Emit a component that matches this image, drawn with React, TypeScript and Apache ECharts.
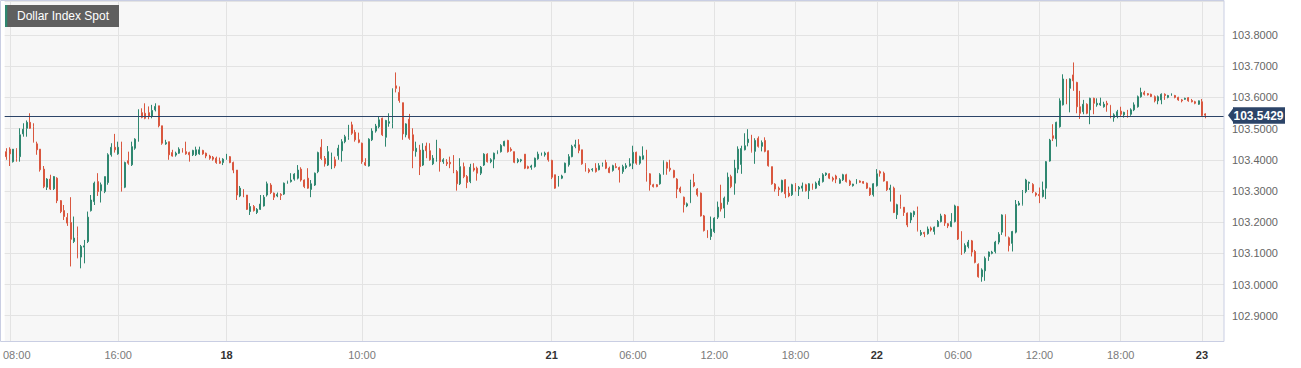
import React, { useEffect, useRef } from 'react';
import * as echarts from 'echarts';

// ---- categories: 15-minute slots, trading days shown on the axis ----
const tradingDays = ['17', '18', '21', '22', '23'];
const firstSlotOfDay17 = 31; // 07:45
const slotCount = 360;

// ---- candles [open, close, low, high] per day ----
const day17 = [
  [103.426, 103.410, 103.400, 103.437], [103.434, 103.419, 103.380, 103.440],
  [103.394, 103.434, 103.391, 103.434], [103.432, 103.405, 103.394, 103.437], [103.410, 103.480, 103.394, 103.501],
  [103.483, 103.498, 103.474, 103.517], [103.501, 103.520, 103.474, 103.526], [103.520, 103.501, 103.499, 103.549],
  [103.506, 103.458, 103.455, 103.517], [103.451, 103.432, 103.416, 103.458], [103.434, 103.368, 103.362, 103.434],
  [103.370, 103.314, 103.309, 103.380], [103.312, 103.338, 103.303, 103.341], [103.338, 103.306, 103.303, 103.352],
  [103.307, 103.346, 103.303, 103.348], [103.341, 103.269, 103.261, 103.344], [103.269, 103.234, 103.229, 103.271],
  [103.237, 103.218, 103.207, 103.255], [103.215, 103.197, 103.188, 103.229], [103.199, 103.145, 103.058, 103.280],
  [103.138, 103.149, 103.133, 103.218], [103.154, 103.088, 103.084, 103.186], [103.088, 103.122, 103.052, 103.127],
  [103.120, 103.124, 103.068, 103.143], [103.138, 103.216, 103.133, 103.234], [103.237, 103.271, 103.234, 103.287],
  [103.266, 103.325, 103.255, 103.330], [103.330, 103.298, 103.284, 103.357], [103.301, 103.320, 103.263, 103.327],
  [103.298, 103.346, 103.293, 103.346], [103.327, 103.416, 103.320, 103.421], [103.416, 103.440, 103.410, 103.453],
  [103.440, 103.432, 103.423, 103.483], [103.419, 103.440, 103.416, 103.458], [103.440, 103.314, 103.298, 103.458],
  [103.312, 103.391, 103.309, 103.394], [103.397, 103.389, 103.384, 103.426], [103.384, 103.442, 103.380, 103.458],
  [103.437, 103.466, 103.432, 103.469], [103.464, 103.560, 103.458, 103.562], [103.551, 103.536, 103.533, 103.565],
  [103.549, 103.533, 103.530, 103.581], [103.551, 103.539, 103.530, 103.571], [103.539, 103.558, 103.533, 103.576],
  [103.560, 103.571, 103.555, 103.581], [103.573, 103.509, 103.504, 103.573], [103.509, 103.453, 103.448, 103.509],
  [103.451, 103.455, 103.448, 103.464], [103.458, 103.416, 103.400, 103.458], [103.423, 103.412, 103.410, 103.432],
  [103.415, 103.421, 103.410, 103.426], [103.421, 103.434, 103.419, 103.440], [103.432, 103.425, 103.423, 103.437],
  [103.426, 103.419, 103.416, 103.458], [103.423, 103.416, 103.394, 103.426], [103.416, 103.430, 103.412, 103.432],
  [103.416, 103.432, 103.412, 103.442], [103.419, 103.432, 103.416, 103.442], [103.430, 103.419, 103.416, 103.432],
  [103.421, 103.412, 103.405, 103.423], [103.412, 103.405, 103.400, 103.416], [103.408, 103.402, 103.397, 103.412],
  [103.405, 103.391, 103.387, 103.410], [103.395, 103.389, 103.387, 103.407], [103.391, 103.402, 103.383, 103.405],
];
const day18 = [
  [103.403, 103.412, 103.400, 103.419], [103.410, 103.391, 103.389, 103.412], [103.391, 103.367, 103.357, 103.394],
  [103.367, 103.287, 103.271, 103.367], [103.284, 103.309, 103.280, 103.316], [103.305, 103.287, 103.280, 103.305],
  [103.287, 103.241, 103.239, 103.287], [103.234, 103.250, 103.223, 103.261], [103.250, 103.237, 103.234, 103.255],
  [103.231, 103.241, 103.226, 103.245], [103.241, 103.258, 103.239, 103.287], [103.252, 103.280, 103.250, 103.287],
  [103.287, 103.323, 103.282, 103.330], [103.319, 103.295, 103.290, 103.325], [103.293, 103.280, 103.271, 103.295],
  [103.284, 103.289, 103.280, 103.295], [103.289, 103.286, 103.271, 103.293], [103.290, 103.325, 103.287, 103.327],
  [103.325, 103.330, 103.323, 103.333], [103.330, 103.335, 103.327, 103.357], [103.338, 103.354, 103.333, 103.357],
  [103.341, 103.367, 103.337, 103.383], [103.370, 103.335, 103.330, 103.376], [103.335, 103.314, 103.309, 103.337],
  [103.341, 103.309, 103.307, 103.373], [103.305, 103.323, 103.280, 103.335], [103.319, 103.357, 103.316, 103.359],
  [103.362, 103.423, 103.357, 103.426], [103.440, 103.404, 103.399, 103.466], [103.404, 103.387, 103.378, 103.412],
  [103.383, 103.426, 103.380, 103.444], [103.410, 103.418, 103.370, 103.423], [103.400, 103.380, 103.373, 103.410],
  [103.413, 103.437, 103.400, 103.448], [103.429, 103.458, 103.394, 103.466], [103.458, 103.474, 103.453, 103.480],
  [103.472, 103.508, 103.464, 103.512], [103.512, 103.485, 103.480, 103.522], [103.488, 103.464, 103.458, 103.496],
  [103.464, 103.456, 103.453, 103.487], [103.453, 103.394, 103.387, 103.455], [103.391, 103.383, 103.380, 103.405],
  [103.380, 103.466, 103.378, 103.469], [103.464, 103.492, 103.460, 103.501], [103.492, 103.508, 103.487, 103.515],
  [103.506, 103.528, 103.501, 103.538], [103.533, 103.480, 103.476, 103.535], [103.472, 103.526, 103.442, 103.528],
  [103.517, 103.522, 103.506, 103.549], [103.517, 103.626, 103.501, 103.629], [103.637, 103.629, 103.616, 103.680],
  [103.616, 103.590, 103.583, 103.635], [103.583, 103.483, 103.464, 103.583], [103.480, 103.515, 103.472, 103.517],
  [103.530, 103.469, 103.464, 103.547], [103.480, 103.429, 103.373, 103.501], [103.426, 103.437, 103.410, 103.458],
  [103.431, 103.378, 103.351, 103.448], [103.383, 103.431, 103.380, 103.453], [103.444, 103.429, 103.405, 103.455],
  [103.429, 103.400, 103.397, 103.453], [103.387, 103.405, 103.383, 103.415], [103.402, 103.434, 103.394, 103.464],
  [103.434, 103.394, 103.362, 103.437], [103.394, 103.400, 103.387, 103.405], [103.392, 103.387, 103.380, 103.402],
  [103.392, 103.387, 103.373, 103.410], [103.389, 103.362, 103.357, 103.415], [103.362, 103.323, 103.301, 103.367],
  [103.323, 103.378, 103.319, 103.405], [103.378, 103.346, 103.341, 103.391], [103.346, 103.327, 103.309, 103.351],
  [103.330, 103.376, 103.325, 103.387], [103.373, 103.367, 103.362, 103.389], [103.373, 103.357, 103.333, 103.378],
  [103.357, 103.376, 103.351, 103.380], [103.383, 103.418, 103.380, 103.421], [103.418, 103.394, 103.391, 103.421],
  [103.394, 103.400, 103.389, 103.405], [103.402, 103.421, 103.373, 103.423], [103.421, 103.426, 103.418, 103.430],
  [103.426, 103.446, 103.423, 103.450], [103.445, 103.459, 103.443, 103.461], [103.462, 103.426, 103.423, 103.464],
  [103.434, 103.430, 103.426, 103.440], [103.426, 103.392, 103.389, 103.426], [103.394, 103.400, 103.389, 103.405],
  [103.397, 103.400, 103.392, 103.403], [103.418, 103.373, 103.370, 103.418], [103.378, 103.373, 103.370, 103.381],
  [103.376, 103.380, 103.368, 103.384], [103.378, 103.405, 103.375, 103.407], [103.403, 103.418, 103.400, 103.426],
  [103.415, 103.418, 103.413, 103.423], [103.416, 103.421, 103.410, 103.426], [103.423, 103.400, 103.394, 103.426],
];
const day21 = [
  [103.398, 103.344, 103.338, 103.400], [103.352, 103.309, 103.307, 103.352], [103.316, 103.344, 103.314, 103.348],
  [103.341, 103.348, 103.338, 103.352], [103.359, 103.389, 103.357, 103.391], [103.384, 103.410, 103.378, 103.418],
  [103.410, 103.443, 103.408, 103.448], [103.443, 103.448, 103.437, 103.464], [103.448, 103.430, 103.421, 103.466],
  [103.432, 103.387, 103.384, 103.432], [103.384, 103.368, 103.362, 103.389], [103.368, 103.362, 103.357, 103.373],
  [103.368, 103.370, 103.362, 103.373], [103.373, 103.362, 103.359, 103.389], [103.368, 103.381, 103.366, 103.389],
  [103.381, 103.384, 103.378, 103.391], [103.391, 103.373, 103.370, 103.400], [103.373, 103.359, 103.357, 103.378],
  [103.366, 103.381, 103.362, 103.384], [103.378, 103.375, 103.373, 103.389], [103.375, 103.368, 103.327, 103.378],
  [103.362, 103.378, 103.355, 103.384], [103.375, 103.381, 103.370, 103.389], [103.381, 103.387, 103.378, 103.405],
  [103.389, 103.424, 103.370, 103.445], [103.424, 103.389, 103.384, 103.426], [103.389, 103.410, 103.384, 103.413],
  [103.402, 103.413, 103.400, 103.443], [103.418, 103.362, 103.330, 103.432], [103.355, 103.320, 103.301, 103.357],
  [103.320, 103.314, 103.311, 103.323], [103.320, 103.314, 103.312, 103.322], [103.323, 103.352, 103.320, 103.357],
  [103.355, 103.394, 103.352, 103.398], [103.391, 103.373, 103.352, 103.394], [103.373, 103.368, 103.362, 103.400],
  [103.366, 103.344, 103.341, 103.368], [103.338, 103.306, 103.277, 103.341], [103.309, 103.298, 103.293, 103.314],
  [103.280, 103.256, 103.231, 103.282], [103.252, 103.259, 103.248, 103.263], [103.263, 103.330, 103.261, 103.336],
  [103.327, 103.316, 103.312, 103.355], [103.306, 103.288, 103.282, 103.309], [103.293, 103.220, 103.218, 103.295],
  [103.220, 103.173, 103.170, 103.223], [103.173, 103.152, 103.149, 103.175], [103.154, 103.178, 103.143, 103.218],
  [103.170, 103.213, 103.165, 103.216], [103.216, 103.248, 103.210, 103.266], [103.261, 103.242, 103.234, 103.320],
  [103.245, 103.277, 103.213, 103.282], [103.266, 103.344, 103.256, 103.359], [103.346, 103.314, 103.309, 103.352],
  [103.325, 103.373, 103.288, 103.400], [103.370, 103.434, 103.357, 103.443], [103.385, 103.436, 103.355, 103.445],
  [103.432, 103.445, 103.430, 103.485], [103.455, 103.466, 103.443, 103.498], [103.466, 103.427, 103.423, 103.480],
  [103.427, 103.462, 103.387, 103.469], [103.469, 103.443, 103.439, 103.475], [103.443, 103.455, 103.427, 103.462],
  [103.462, 103.427, 103.424, 103.472], [103.429, 103.381, 103.378, 103.430], [103.378, 103.323, 103.320, 103.378],
  [103.322, 103.306, 103.298, 103.325], [103.309, 103.304, 103.284, 103.314], [103.298, 103.334, 103.295, 103.336],
  [103.336, 103.291, 103.277, 103.338], [103.293, 103.284, 103.280, 103.314], [103.288, 103.320, 103.284, 103.323],
  [103.320, 103.314, 103.298, 103.325], [103.306, 103.312, 103.284, 103.316], [103.309, 103.316, 103.298, 103.327],
  [103.320, 103.301, 103.298, 103.323], [103.301, 103.323, 103.274, 103.325], [103.323, 103.309, 103.304, 103.323],
  [103.309, 103.325, 103.306, 103.330], [103.320, 103.332, 103.316, 103.341], [103.330, 103.352, 103.327, 103.357],
  [103.352, 103.357, 103.348, 103.359], [103.355, 103.341, 103.338, 103.357], [103.341, 103.336, 103.330, 103.346],
  [103.348, 103.338, 103.325, 103.352], [103.325, 103.336, 103.323, 103.341], [103.336, 103.352, 103.332, 103.355],
  [103.352, 103.330, 103.327, 103.355], [103.332, 103.320, 103.316, 103.336], [103.317, 103.322, 103.314, 103.323],
  [103.325, 103.332, 103.322, 103.338], [103.332, 103.328, 103.326, 103.334], [103.330, 103.325, 103.323, 103.332],
  [103.325, 103.309, 103.306, 103.327], [103.309, 103.288, 103.284, 103.311], [103.288, 103.323, 103.282, 103.325],
];
const day22 = [
  [103.317, 103.355, 103.314, 103.370], [103.362, 103.357, 103.346, 103.366], [103.357, 103.332, 103.330, 103.362],
  [103.330, 103.304, 103.300, 103.330], [103.304, 103.309, 103.266, 103.320], [103.309, 103.231, 103.229, 103.314],
  [103.224, 103.256, 103.210, 103.259], [103.250, 103.245, 103.243, 103.288], [103.248, 103.231, 103.220, 103.248],
  [103.229, 103.191, 103.184, 103.231], [103.207, 103.229, 103.197, 103.231], [103.224, 103.234, 103.216, 103.237],
  [103.240, 103.173, 103.170, 103.250], [103.160, 103.167, 103.156, 103.175], [103.167, 103.163, 103.152, 103.169],
  [103.163, 103.178, 103.160, 103.186], [103.181, 103.175, 103.170, 103.186], [103.170, 103.184, 103.160, 103.186],
  [103.186, 103.202, 103.184, 103.207], [103.202, 103.220, 103.199, 103.227], [103.223, 103.197, 103.188, 103.226],
  [103.195, 103.188, 103.181, 103.197], [103.186, 103.202, 103.184, 103.229], [103.202, 103.252, 103.199, 103.256],
  [103.250, 103.146, 103.143, 103.252], [103.149, 103.108, 103.095, 103.171], [103.106, 103.125, 103.100, 103.132],
  [103.122, 103.136, 103.116, 103.143], [103.140, 103.104, 103.090, 103.143], [103.106, 103.071, 103.068, 103.111],
  [103.065, 103.025, 103.022, 103.068], [103.025, 103.047, 103.009, 103.052], [103.044, 103.084, 103.012, 103.090],
  [103.090, 103.104, 103.076, 103.106], [103.100, 103.104, 103.097, 103.108], [103.106, 103.136, 103.100, 103.140],
  [103.136, 103.161, 103.129, 103.168], [103.168, 103.223, 103.159, 103.225], [103.221, 103.159, 103.154, 103.225],
  [103.150, 103.125, 103.106, 103.154], [103.132, 103.170, 103.106, 103.172], [103.168, 103.257, 103.164, 103.271],
  [103.255, 103.261, 103.253, 103.268], [103.257, 103.298, 103.253, 103.303], [103.298, 103.335, 103.293, 103.339],
  [103.325, 103.328, 103.303, 103.330], [103.321, 103.298, 103.293, 103.325], [103.293, 103.287, 103.282, 103.296],
  [103.289, 103.285, 103.261, 103.311], [103.282, 103.303, 103.279, 103.330], [103.309, 103.394, 103.274, 103.396],
  [103.396, 103.463, 103.394, 103.467], [103.477, 103.469, 103.460, 103.514], [103.467, 103.520, 103.442, 103.522],
  [103.506, 103.589, 103.503, 103.597], [103.576, 103.659, 103.574, 103.674], [103.656, 103.627, 103.578, 103.659],
  [103.629, 103.659, 103.552, 103.661], [103.672, 103.653, 103.621, 103.712], [103.648, 103.570, 103.549, 103.650],
  [103.570, 103.549, 103.531, 103.621], [103.554, 103.578, 103.546, 103.592], [103.578, 103.549, 103.546, 103.581],
  [103.560, 103.597, 103.514, 103.599], [103.597, 103.581, 103.546, 103.599], [103.576, 103.581, 103.570, 103.597],
  [103.576, 103.581, 103.573, 103.599], [103.570, 103.578, 103.567, 103.586], [103.581, 103.576, 103.554, 103.589],
  [103.574, 103.538, 103.533, 103.576], [103.535, 103.544, 103.522, 103.549], [103.541, 103.554, 103.533, 103.560],
  [103.556, 103.546, 103.538, 103.570], [103.544, 103.552, 103.535, 103.554], [103.552, 103.546, 103.535, 103.560],
  [103.546, 103.560, 103.541, 103.565], [103.560, 103.576, 103.556, 103.584], [103.570, 103.602, 103.567, 103.606],
  [103.602, 103.616, 103.599, 103.631], [103.615, 103.610, 103.606, 103.621], [103.612, 103.608, 103.606, 103.614],
  [103.610, 103.603, 103.601, 103.612], [103.602, 103.589, 103.584, 103.606], [103.589, 103.602, 103.578, 103.606],
  [103.592, 103.610, 103.578, 103.613], [103.610, 103.606, 103.592, 103.613], [103.600, 103.606, 103.597, 103.608],
  [103.607, 103.611, 103.605, 103.613], [103.606, 103.600, 103.597, 103.608], [103.600, 103.592, 103.589, 103.602],
  [103.592, 103.589, 103.584, 103.595], [103.594, 103.597, 103.592, 103.599], [103.599, 103.589, 103.586, 103.601],
  [103.590, 103.586, 103.584, 103.595], [103.586, 103.581, 103.578, 103.589], [103.578, 103.589, 103.576, 103.590],
];
const day23 = [
  [103.586, 103.542, 103.538, 103.595], [103.547, 103.5429, 103.533, 103.549],
];

const lastPrice = 103.5429;
const titleText = 'Dollar Index Spot';
const tickLabelTimes = [
  '17 08:00', '17 16:00', '18 00:00', '18 10:00', '21 00:00', '21 06:00', '21 12:00',
  '21 18:00', '22 00:00', '22 06:00', '22 12:00', '22 18:00', '23 00:00',
];
const yAxisMin = 102.819;
const yAxisMax = 103.909;

const pad = (n: number) => (n < 10 ? '0' + n : '' + n);
function buildCategories(): string[] {
  const out: string[] = [];
  let d = 0;
  let slot = firstSlotOfDay17;
  while (out.length < slotCount) {
    out.push(`${tradingDays[d]} ${pad(Math.floor(slot / 4))}:${pad((slot % 4) * 15)}`);
    slot++;
    if (slot === 96) { slot = 0; d++; }
  }
  return out;
}

const FONT = 'Arial, "Liberation Sans", Helvetica, sans-serif';
const UP = '#2f8770';
const DOWN = '#d9573f';
const NAVY = '#2c4468';
const GRID = '#e3e3e3';

export default function App() {
  const ref = useRef<HTMLDivElement>(null);
  useEffect(() => {
    const chart = echarts.init(ref.current!, undefined, { renderer: 'svg' });
    const categories = buildCategories();
    const tickSet = new Set(tickLabelTimes);
    const candles = [...day17, ...day18, ...day21, ...day22, ...day23];

    // horizontal split lines: min(extra), 102.9 ... 103.8, 103.9 (hidden), max(extra)
    const hLineColors = [GRID, GRID, GRID, GRID, GRID, GRID, GRID, GRID, GRID, GRID, GRID, 'rgba(0,0,0,0)', GRID];

    chart.setOption({
      animation: false,
      backgroundColor: '#ffffff',
      grid: {
        left: 1.1, right: 77, top: 1, bottom: 27,
        show: true, backgroundColor: '#f7f7f7', borderWidth: 0,
      },
      xAxis: {
        type: 'category',
        data: categories,
        boundaryGap: true,
        axisLine: { show: false },
        axisTick: { show: false },
        axisLabel: {
          interval: (_i: number, v: string) => tickSet.has(v),
          margin: 8,
          formatter: (v: string) => {
            const [d, t] = v.split(' ');
            if (t === '00:00') return `{day|${d}}`;
            if (v === '17 08:00') return `{first|${t}}`;
            return `{time|${t}}`;
          },
          rich: {
            time: { color: '#7a7a7a', fontSize: 11, fontFamily: FONT },
            first: { color: '#7a7a7a', fontSize: 11, fontFamily: FONT, padding: [0, 0, 0, 14] },
            day: { color: '#333333', fontSize: 11, fontWeight: 'bold', fontFamily: FONT },
          },
        },
        splitLine: {
          show: true,
          alignWithLabel: true,
          interval: (_i: number, v: string) => tickSet.has(v),
          lineStyle: { color: GRID, width: 1 },
        },
      },
      yAxis: {
        type: 'value',
        position: 'right',
        min: yAxisMin,
        max: yAxisMax,
        splitNumber: 11,
        scale: true,
        axisLine: { show: false },
        axisTick: { show: false },
        axisLabel: {
          margin: 8,
          color: '#666666',
          fontSize: 11,
          fontFamily: FONT,
          showMinLabel: false,
          showMaxLabel: false,
          formatter: (v: number) => (v > 103.85 ? '' : v.toFixed(4)),
        },
        splitLine: { show: true, lineStyle: { color: hLineColors, width: 1 } },
      },
      series: [
        {
          type: 'candlestick',
          data: candles,
          barWidth: 1.4,
          itemStyle: {
            color: UP, color0: DOWN, borderColor: UP, borderColor0: DOWN, borderWidth: 1,
          },
          markLine: {
            silent: true,
            symbol: ['none', 'none'],
            label: { show: false },
            lineStyle: { color: NAVY, width: 1, type: 'solid' },
            data: [{ yAxis: lastPrice }],
          },
        },
      ],
    });

    const y = chart.convertToPixel({ yAxisIndex: 0 }, lastPrice) as number;
    chart.setOption({
      graphic: [
        {
          type: 'rect', z: 50, silent: true,
          shape: { x: 0.5, y: 0.5, width: 1223.5, height: 341 },
          style: { fill: 'transparent', stroke: '#c9cee3', lineWidth: 1 },
        },
        {
          type: 'rect', z: 60, shape: { x: 5, y: 5, width: 114, height: 22 },
          style: { fill: '#5f5f5f' },
        },
        {
          type: 'rect', z: 61, shape: { x: 5, y: 5, width: 2.3, height: 22 },
          style: { fill: '#2f8770' },
        },
        {
          type: 'text', z: 62, x: 17, y: 16,
          style: { text: titleText, fill: '#ffffff', font: `12px ${FONT}`, verticalAlign: 'middle', align: 'left' },
        },
        {
          type: 'polygon', z: 60,
          shape: { points: [[1228, y], [1234, y - 8], [1234, y + 8]] },
          style: { fill: NAVY },
        },
        {
          type: 'rect', z: 60, shape: { x: 1233, y: y - 8, width: 52, height: 16.5 },
          style: { fill: NAVY },
        },
        {
          type: 'text', z: 61, x: 1258.5, y: y + 0.5,
          style: { text: lastPrice.toFixed(4), fill: '#ffffff', font: `bold 12px ${FONT}`, align: 'center', verticalAlign: 'middle' },
        },
      ],
    });

    return () => chart.dispose();
  }, []);
  return <div ref={ref} style={{ position: 'fixed', left: 0, top: 0, width: 1301, height: 368 }} />;
}
